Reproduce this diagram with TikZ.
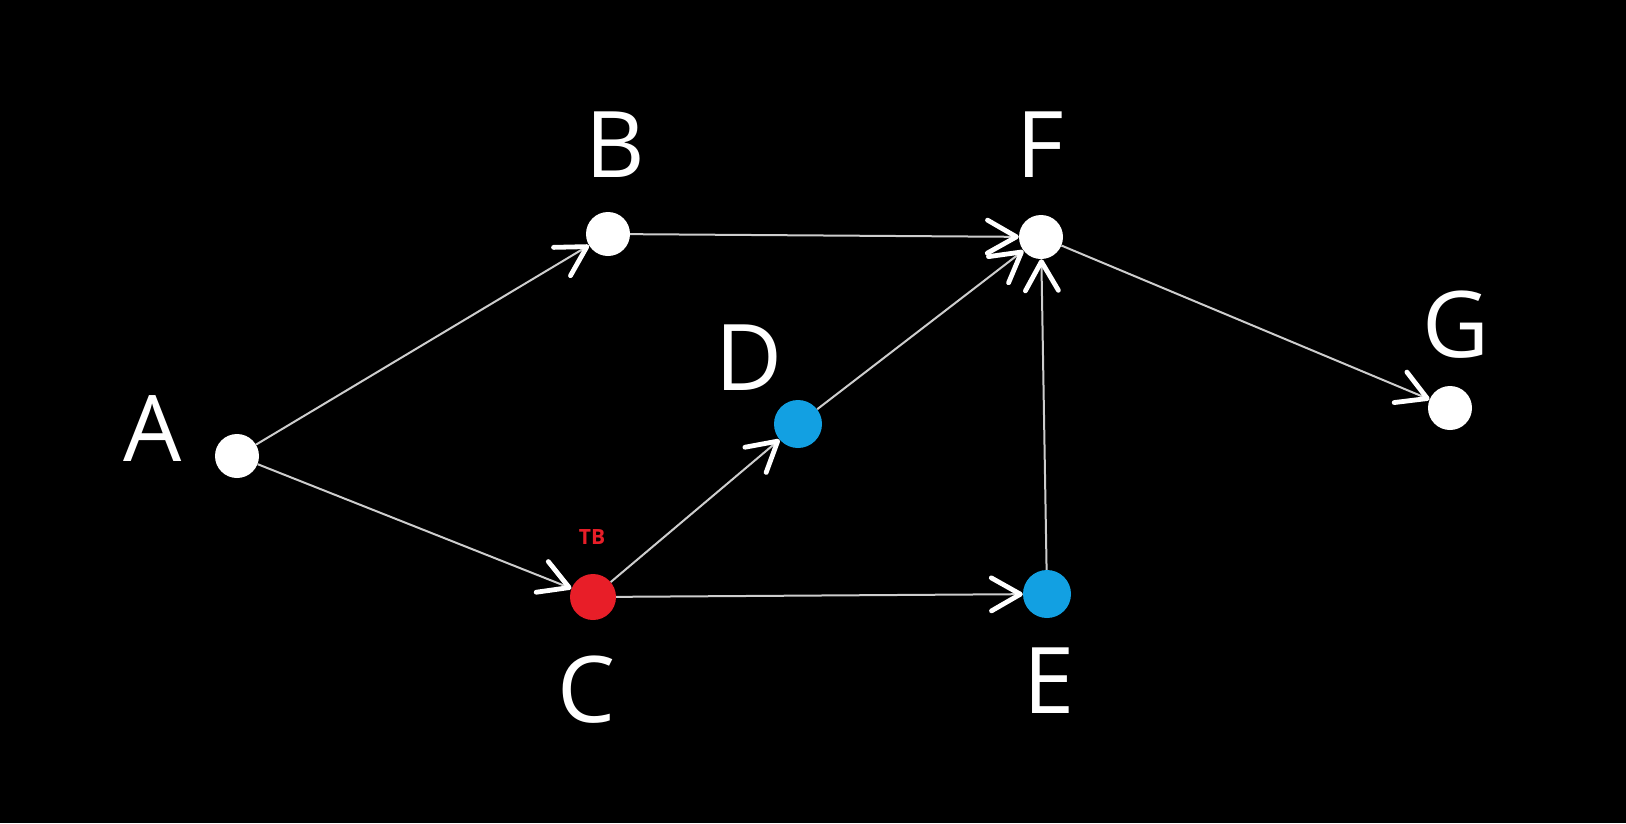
\documentclass[tikz,border=0pt]{standalone}
\usepackage{fontspec}
\setmainfont{Open Sans}
\usetikzlibrary{arrows.meta}
\definecolor{nblue}{RGB}{18,160,226}
\definecolor{nred}{RGB}{232,30,40}
\definecolor{shaftc}{RGB}{205,205,205}
\begin{document}
\begin{tikzpicture}[x=1pt,y=-1pt,
  dot/.style={circle,fill=white,minimum size=44pt,inner sep=0pt},
  lab/.style={text=white,font=\fontsize{92}{92}\selectfont,inner sep=0pt},
  edge/.style={draw=shaftc,line width=2pt,-{Straight Barb[length=29pt,width=33pt,line width=4.8pt,color=white,round]}}]
\fill[black] (0,0) rectangle (1626,823);
\useasboundingbox (0,0) rectangle (1626,823);
\node[dot] (A) at (237,456) {};
\node[dot] (B) at (608,234) {};
\node[dot,fill=nred,minimum size=46pt] (C) at (593,597) {};
\node[dot,fill=nblue,minimum size=48pt] (D) at (798,424) {};
\node[dot,fill=nblue,minimum size=48pt] (E) at (1047,594) {};
\node[dot] (F) at (1041,237) {};
\node[dot] (G) at (1450,408) {};
\node[lab] (lA) at (153,429) {A};
\node[lab] (lB) at (615,145) {B};
\node[lab] (lF) at (1040,145) {F};
\node[lab] (lG) at (1456,325) {G};
\node[lab] (lD) at (749,358) {D};
\node[lab] (lC) at (587,690) {C};
\node[lab] (lE) at (1049,681) {E};
\node[text=nred,font=\bfseries\fontsize{21}{21}\selectfont,inner sep=0pt] (lTB) at (592,537) {TB};
\draw[edge] (A) -- (B);
\draw[edge] (A) -- (C);
\draw[edge] (B) -- (F);
\draw[edge] (C) -- (D);
\draw[edge] (C) -- (E);
\draw[edge] (D) -- (F);
\draw[edge] (E) -- (F);
\draw[edge] (F) -- (G);
\end{tikzpicture}
\end{document}
